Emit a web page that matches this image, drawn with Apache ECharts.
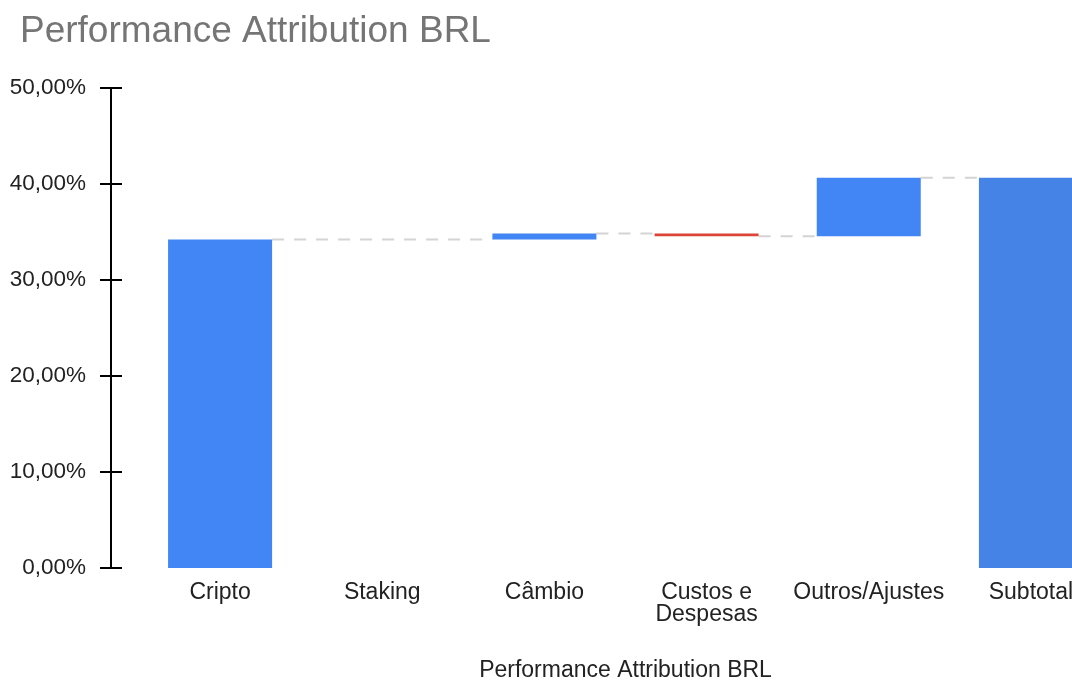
<!DOCTYPE html>
<html>
<head>
<meta charset="utf-8">
<script src="https://cdn.jsdelivr.net/npm/echarts@6/dist/echarts.min.js"></script>
<style>
html,body{margin:0;padding:0;background:#fff;}
#chart{width:1072px;height:681px;}
</style>
</head>
<body>
<div id="chart"></div>
<script>
const titleText = 'Performance Attribution BRL';
const categories = ['Cripto', 'Staking', 'Câmbio', 'Custos e\nDespesas', 'Outros/Ajustes', 'Subtotal'];
const values = [34.22, 0, 0.63, -0.30, 6.10, 40.65];
const isTotal = [false, false, false, false, false, true];
const yTicks = [0, 10, 20, 30, 40, 50];

const FONT = "'Liberation Sans', Arial, sans-serif";
const COLOR_UP = '#4285f4';
const COLOR_DOWN = '#db4437';
const COLOR_TOTAL = '#4683e6';

const base = [];
const height = [];
const ends = [];
const hasBar = [];
let running = 0;
values.forEach((v, i) => {
  if (isTotal[i]) {
    base.push(0);
    height.push({ value: v, itemStyle: { color: COLOR_TOTAL } });
    running = v;
  } else {
    const start = running;
    const end = running + v;
    base.push(Math.min(start, end));
    height.push({ value: Math.abs(v), itemStyle: { color: v < 0 ? COLOR_DOWN : COLOR_UP } });
    running = end;
  }
  ends.push(running);
  hasBar.push(v !== 0);
});

// connector: from each drawn bar to the next drawn bar, at the running level
const connectorData = [];
for (let i = 0; i < values.length - 1; i++) {
  if (!hasBar[i]) continue;
  let j = i + 1;
  while (j < values.length && !hasBar[j]) j++;
  if (j < values.length) connectorData.push([i, j, ends[i]]);
}
const BAR_W = 104;

const chart = echarts.init(document.getElementById('chart'), null, { renderer: 'canvas' });
const yMin = yTicks[0], yMax = yTicks[yTicks.length - 1], yStep = yTicks[1] - yTicks[0];
const fmt = v => v.toFixed(2).replace('.', ',') + '%';

chart.setOption({
  animation: false,
  backgroundColor: '#fff',
  title: {
    text: titleText,
    left: 20, top: 13, padding: 0,
    textStyle: { fontFamily: FONT, fontSize: 37, fontWeight: 'normal', color: '#757575' }
  },
  grid: { left: 139, width: 973, top: 88, height: 480, containLabel: false, outerBoundsMode: 'none' },
  xAxis: {
    type: 'category',
    data: categories,
    axisLine: { show: false },
    axisTick: { show: false },
    axisLabel: { margin: 14, fontFamily: FONT, fontSize: 23, lineHeight: 22, color: '#222', interval: 0 },
    name: titleText,
    nameLocation: 'middle',
    nameGap: 91,
    nameTextStyle: { fontFamily: FONT, fontSize: 23, color: '#222' }
  },
  yAxis: [{
    type: 'value',
    min: yMin, max: yMax, interval: yStep,
    position: 'left', offset: 28,
    axisLine: { show: true, lineStyle: { color: '#000', width: 2 } },
    axisTick: { show: true, length: 11, lineStyle: { color: '#000', width: 2 } },
    splitLine: { show: false },
    axisLabel: { margin: 25, fontFamily: FONT, fontSize: 22.5, color: '#222', formatter: fmt }
  }, {
    type: 'value',
    min: yMin, max: yMax, interval: yStep,
    position: 'left', offset: 28,
    axisLine: { show: false },
    axisTick: { show: true, inside: true, length: 11, lineStyle: { color: '#000', width: 2 } },
    splitLine: { show: false },
    axisLabel: { show: false }
  }],
  series: [{
    type: 'custom',
    z: 1,
    silent: true,
    data: connectorData,
    renderItem: function (params, api) {
      const i = api.value(0);
      const j = api.value(1);
      const v = api.value(2);
      const p1 = api.coord([i, v]);
      const p2 = api.coord([j, v]);
      return {
        type: 'line',
        shape: { x1: p1[0] + BAR_W / 2, y1: p1[1], x2: p2[0] - BAR_W / 2, y2: p2[1] },
        style: { stroke: '#d4d4d4', lineWidth: 2, lineDash: [12, 10] }
      };
    }
  }, {
    type: 'bar',
    stack: 'wf',
    barWidth: BAR_W,
    z: 2,
    itemStyle: { color: 'transparent' },
    data: base,
    silent: true
  }, {
    type: 'bar',
    stack: 'wf',
    barWidth: BAR_W,
    z: 2,
    data: height
  }]
});
</script>
</body>
</html>
